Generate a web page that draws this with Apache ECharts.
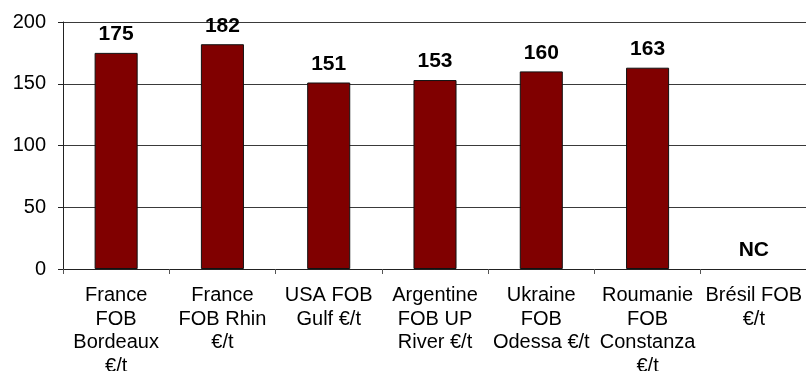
<!DOCTYPE html>
<html><head><meta charset="utf-8">
<script src="https://cdn.jsdelivr.net/npm/echarts@6/dist/echarts.min.js"></script>
<style>html,body{margin:0;padding:0;background:#fff}#c{width:806px;height:371px}</style>
</head><body><div id="c"></div>
<script>
var categories = ["France\nFOB\nBordeaux\n€/t", "France\nFOB Rhin\n€/t", "USA FOB\nGulf €/t", "Argentine\nFOB UP\nRiver €/t", "Ukraine\nFOB\nOdessa €/t", "Roumanie\nFOB\nConstanza\n€/t", "Brésil FOB\n€/t"];
var values = [175, 182, 151, 153, 160, 163, null];
var missingLabel = "NC";
var yTicks = [0, 50, 100, 150, 200];

var data = values.map(function (v) {
  if (v === null) {
    return { value: 0, itemStyle: { color: 'rgba(0,0,0,0)', borderWidth: 0 }, label: { formatter: missingLabel } };
  }
  return v;
});

var chart = echarts.init(document.getElementById('c'), null, { renderer: 'canvas' });
chart.setOption({
  animation: false,
  textStyle: { fontFamily: 'Arial, "Liberation Sans", sans-serif' },
  grid: { left: 63, right: -1, top: 22, bottom: 102, containLabel: false, outerBoundsMode: 'none' },
  xAxis: {
    type: 'category',
    data: categories,
    axisLine: { show: true, lineStyle: { color: '#222', width: 1 } },
    axisTick: { show: true, length: 5, lineStyle: { color: '#555' } },
    axisLabel: { color: '#000', fontSize: 20, lineHeight: 23.5, margin: 15, interval: 0, fontFamily: 'Arial, "Liberation Sans", sans-serif' },
    splitLine: { show: false }
  },
  yAxis: {
    type: 'value',
    min: yTicks[0], max: yTicks[yTicks.length - 1], interval: 50,
    axisLine: { show: true, lineStyle: { color: '#222', width: 1 } },
    axisTick: { show: true, length: 5, lineStyle: { color: '#222' } },
    axisLabel: { color: '#000', fontSize: 20, margin: 17, fontFamily: 'Arial, "Liberation Sans", sans-serif' },
    splitLine: { show: true, lineStyle: { color: '#3a3a3a', width: 1 } }
  },
  series: [{
    type: 'bar',
    data: data,
    barWidth: '40.5%',
    itemStyle: { color: '#800000', borderColor: '#111', borderWidth: 1 },
    label: { show: true, position: 'top', distance: 8, color: '#000', fontSize: 21, fontWeight: 'bold', fontFamily: 'Arial, "Liberation Sans", sans-serif' }
  }]
});
</script></body></html>
